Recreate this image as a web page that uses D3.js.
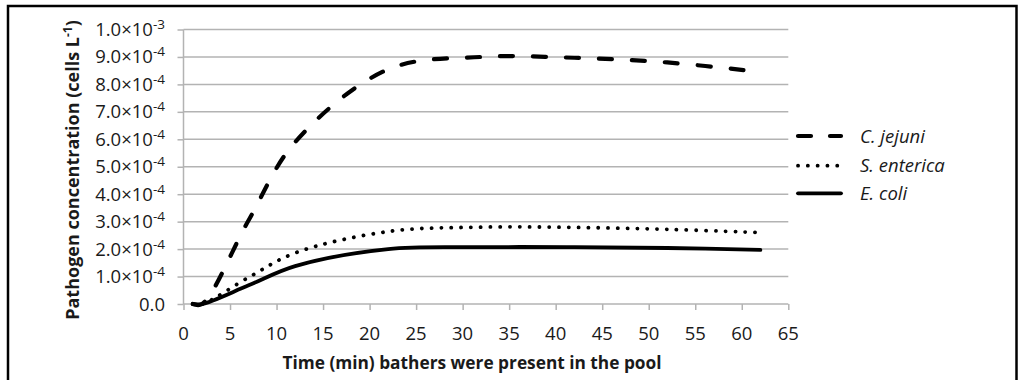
<!DOCTYPE html>
<html><head><meta charset="utf-8">
<script src="https://cdn.jsdelivr.net/npm/d3@7"></script>
<style>
body{margin:0;background:#fff;}
svg{display:block;font-family:"Open Sans",sans-serif;}
</style></head>
<body>
<svg id="chart" width="1023" height="380"></svg>
<script>
// ---- data ----
const times = [1, 2, 7, 12, 22, 32, 42, 52, 62];
const cJejuni = [0, 0, 3.05e-4, 5.9e-4, 8.55e-4, 9.0e-4, 8.97e-4, 8.8e-4, 8.45e-4];
const sEnterica = [0, 0, 0.97e-4, 1.86e-4, 2.64e-4, 2.8e-4, 2.79e-4, 2.72e-4, 2.6e-4];
const eColi = [0, 0, 0.68e-4, 1.38e-4, 2.0e-4, 2.07e-4, 2.07e-4, 2.04e-4, 1.97e-4];
const seriesNames = ["C. jejuni", "S. enterica", "E. coli"];
const xTicks = [0,5,10,15,20,25,30,35,40,45,50,55,60,65];
const yTicks = [0,1e-4,2e-4,3e-4,4e-4,5e-4,6e-4,7e-4,8e-4,9e-4,1e-3];
const yTickMantissa = ["0.0","1.0","2.0","3.0","4.0","5.0","6.0","7.0","8.0","9.0","1.0"];
const yTickExp = ["","-4","-4","-4","-4","-4","-4","-4","-4","-4","-3"];
const xTitle = "Time (min) bathers were present in the pool";

const svg = d3.select("#chart");
const x = d3.scaleLinear().domain([0,65]).range([183.5,788.3]);
const y = d3.scaleLinear().domain([0,1e-3]).range([304,29.5]);
const grid = "#b3b3b3";
const ink = "#1a1a1a";

// outer frame
svg.append("rect").attr("x",8).attr("y",6).attr("width",1008.5).attr("height",420)
  .attr("fill","none").attr("stroke","#000").attr("stroke-width",2.5);

// gridlines
svg.append("g").selectAll("line").data(yTicks.slice(1)).join("line")
  .attr("x1",x(0)).attr("x2",x(65)).attr("y1",d=>y(d)).attr("y2",d=>y(d))
  .attr("stroke",grid).attr("stroke-width",1.5);

// y axis
const yAxis = svg.append("g").attr("transform",`translate(${x(0)},0)`)
  .call(d3.axisLeft(y).tickValues(yTicks).tickSize(6).tickFormat(""));
yAxis.select(".domain").attr("stroke",grid).attr("stroke-width",1.5).attr("d",`M0,${y(1e-3)}V${y(0)}`);
yAxis.selectAll(".tick line").attr("stroke",grid).attr("stroke-width",1.5);

// x axis
const xAxis = svg.append("g").attr("transform",`translate(0,${y(0)})`)
  .call(d3.axisBottom(x).tickValues(xTicks).tickSize(6).tickFormat(""));
xAxis.select(".domain").attr("stroke",grid).attr("stroke-width",1.5).attr("d",`M${x(0)},0H${x(65)}`);
xAxis.selectAll(".tick line").attr("stroke",grid).attr("stroke-width",1.5);

// y tick labels
const yl = svg.append("g").selectAll("text").data(yTicks).join("text")
  .attr("x",165).attr("y",(d)=>y(d)+6.5).attr("text-anchor","end")
  .attr("font-size",18.5).attr("fill",ink);
yl.each(function(d,i){
  const t = d3.select(this);
  if(yTickExp[i]===""){ t.text(yTickMantissa[i]); return; }
  t.append("tspan").text(yTickMantissa[i]+"×10");
  t.append("tspan").attr("dy",-7).attr("font-size",13.5).text(yTickExp[i]);
});

// x tick labels
svg.append("g").selectAll("text").data(xTicks).join("text")
  .attr("x",d=>x(d)).attr("y",340).attr("text-anchor","middle")
  .attr("font-size",18.5).attr("fill",ink).text(d=>d);

// axis titles
const yt = svg.append("text").attr("transform",`translate(79,170) rotate(-90)`)
  .attr("text-anchor","middle").attr("font-size",18).attr("font-weight","bold").attr("fill",ink);
yt.append("tspan").text("Pathogen concentration (cells L");
yt.append("tspan").attr("dy",-7).attr("font-size",12).text("-1");
yt.append("tspan").attr("dy",7).text(")");
svg.append("text").attr("x",472).attr("y",369).attr("text-anchor","middle")
  .attr("font-size",17.3).attr("font-weight","bold").attr("fill",ink).text(xTitle);

// lines
const styles = [
  {dash:"13,20", w:4.2},
  {dash:"0.1,9.7", w:3.8},
  {dash:null, w:3.8}
];
const seriesVals = [cJejuni, sEnterica, eColi];
const line = d3.line().x(d=>x(d[0])).y(d=>y(d[1])).curve(d3.curveCatmullRom.alpha(0.5));
seriesVals.forEach((vals,i)=>{
  svg.append("path").datum(times.map((t,j)=>[t,vals[j]]))
    .attr("d",line).attr("fill","none").attr("stroke","#000")
    .attr("stroke-width",styles[i].w).attr("stroke-linecap","round").attr("stroke-linejoin","round")
    .attr("stroke-dasharray",styles[i].dash);
});

// legend
const legY = [136,165.7,193.3];
const lg = svg.append("g");
seriesNames.forEach((n,i)=>{
  lg.append("line").attr("x1",798).attr("x2",841).attr("y1",legY[i]).attr("y2",legY[i])
    .attr("stroke","#000").attr("stroke-width",styles[i].w).attr("stroke-linecap","round")
    .attr("stroke-dasharray",i===0?"13,19":styles[i].dash);
  lg.append("text").attr("x",860).attr("y",legY[i]+6.5).attr("font-size",18.5)
    .attr("font-style","italic").attr("fill",ink).text(n);
});
</script>
</body></html>
